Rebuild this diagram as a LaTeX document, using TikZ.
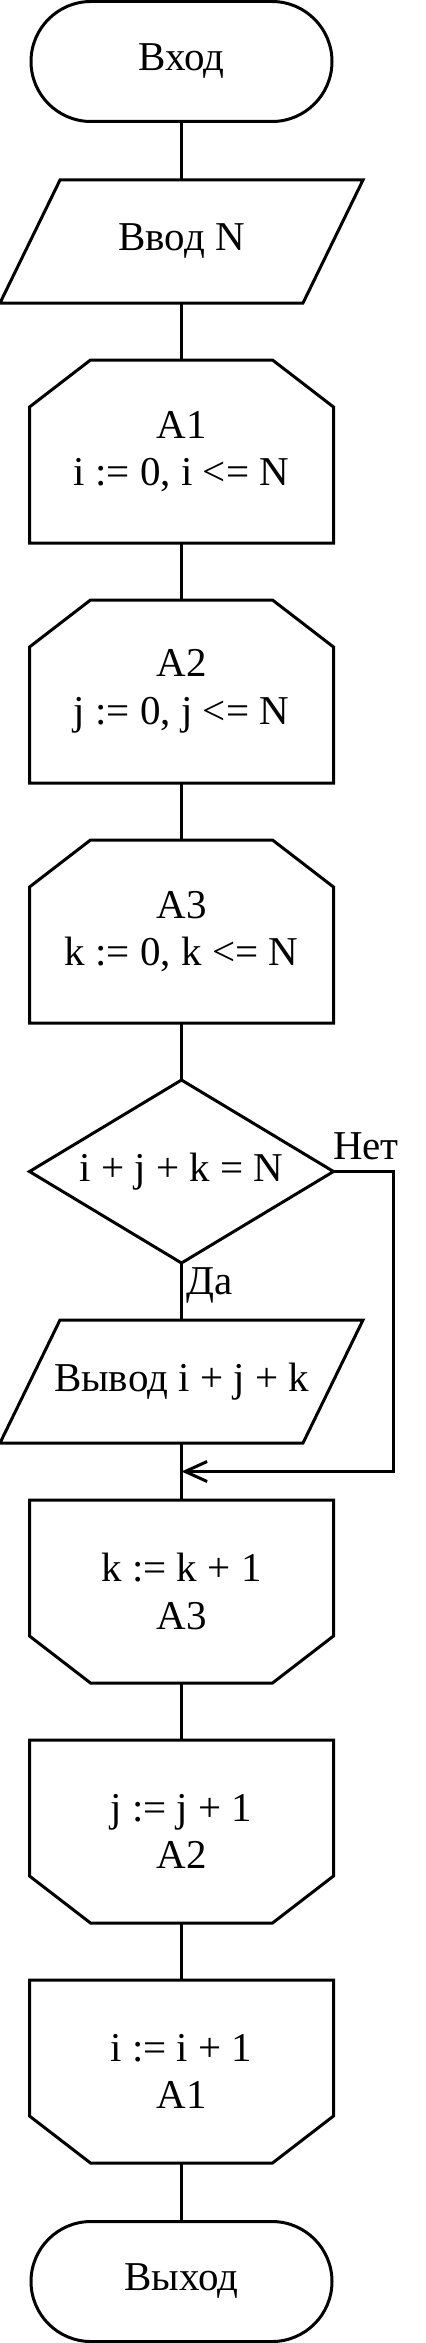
\documentclass[tikz,border=0pt]{standalone}
\usepackage{fontspec}
\setmainfont{Liberation Serif}
\usetikzlibrary{calc,arrows.meta}
\begin{document}
\begin{tikzpicture}[x=0.3pt,y=0.3pt,line width=0.9pt,
    every node/.style={font=\fontsize{12.3}{14.3}\selectfont,align=center},
    term/.style={draw,rounded corners=18pt,minimum width=90.3pt,minimum height=36pt,inner sep=0pt},
    io/.style={minimum width=108pt,minimum height=36pt,inner sep=0pt},
    blk/.style={minimum width=90.3pt,minimum height=54pt,inner sep=0pt}]
    \useasboundingbox(0,0) rectangle (426,-2343);
    \node[term](entry)at(181.5,-61.5){Вход};
    \node[io](inp)at(181.5,-241.5){Ввод N};
    \node[blk](a1)at(181.5,-451.5){A1\\i := 0, i <= N};
    \node[blk](a2)at(181.5,-691.5){A2\\j := 0, j <= N};
    \node[blk](a3)at(181.5,-931.5){A3\\k := 0, k <= N};
    \node[blk](dec)at(181.5,-1171.5){i + j + k = N};
    \node[io](out)at(181.5,-1381.5){Вывод i + j + k};
    \node[blk](kinc)at(181.5,-1591.5){k := k + 1\\A3};
    \node[blk](jinc)at(181.5,-1831.5){j := j + 1\\A2};
    \node[blk](iinc)at(181.5,-2071.5){i := i + 1\\A1};
    \node[term](exit)at(181.5,-2281.5){Выход};
    \coordinate(join)at(181.5,-1471.5);

    \draw($(inp.north west)+(60,0)$)--(inp.north east)--($(inp.south east)+(-60,0)$)--(inp.south west)--cycle;
    \draw($(out.north west)+(60,0)$)--(out.north east)--($(out.south east)+(-60,0)$)--(out.south west)--cycle;
    \draw(a1.south west)--($(a1.north west)+(0,-47)$)--($(a1.north west)+(61,0)$)--($(a1.north east)+(-61,0)$)--($(a1.north east)+(0,-47)$)--(a1.south east)--cycle;
    \draw(a2.south west)--($(a2.north west)+(0,-47)$)--($(a2.north west)+(61,0)$)--($(a2.north east)+(-61,0)$)--($(a2.north east)+(0,-47)$)--(a2.south east)--cycle;
    \draw(a3.south west)--($(a3.north west)+(0,-47)$)--($(a3.north west)+(61,0)$)--($(a3.north east)+(-61,0)$)--($(a3.north east)+(0,-47)$)--(a3.south east)--cycle;
    \draw(dec.north)--(dec.east)--(dec.south)--(dec.west)--cycle;
    \draw(kinc.north west)--($(kinc.south west)+(0,47)$)--($(kinc.south west)+(61,0)$)--($(kinc.south east)+(-61,0)$)--($(kinc.south east)+(0,47)$)--(kinc.north east)--cycle;
    \draw(jinc.north west)--($(jinc.south west)+(0,47)$)--($(jinc.south west)+(61,0)$)--($(jinc.south east)+(-61,0)$)--($(jinc.south east)+(0,47)$)--(jinc.north east)--cycle;
    \draw(iinc.north west)--($(iinc.south west)+(0,47)$)--($(iinc.south west)+(61,0)$)--($(iinc.south east)+(-61,0)$)--($(iinc.south east)+(0,47)$)--(iinc.north east)--cycle;

    \draw(entry.south)--(inp.north) (inp.south)--(a1.north) (a1.south)--(a2.north) (a2.south)--(a3.north)
      (a3.south)--(dec.north) (dec.south)--(out.north) (out.south)--(kinc.north) (kinc.south)--(jinc.north)
      (jinc.south)--(iinc.north) (iinc.south)--(exit.north);
    \draw[-{Straight Barb[length=6.6pt,width=6pt]}](dec.east)--++(60,0)|-(join);
    \node[below right,inner sep=1pt](yes)at(dec.south){Да};
    \node[anchor=south west,inner sep=0pt](no)at($(dec.east)+(-2,10)$){Нет};
  \end{tikzpicture}
\end{document}
